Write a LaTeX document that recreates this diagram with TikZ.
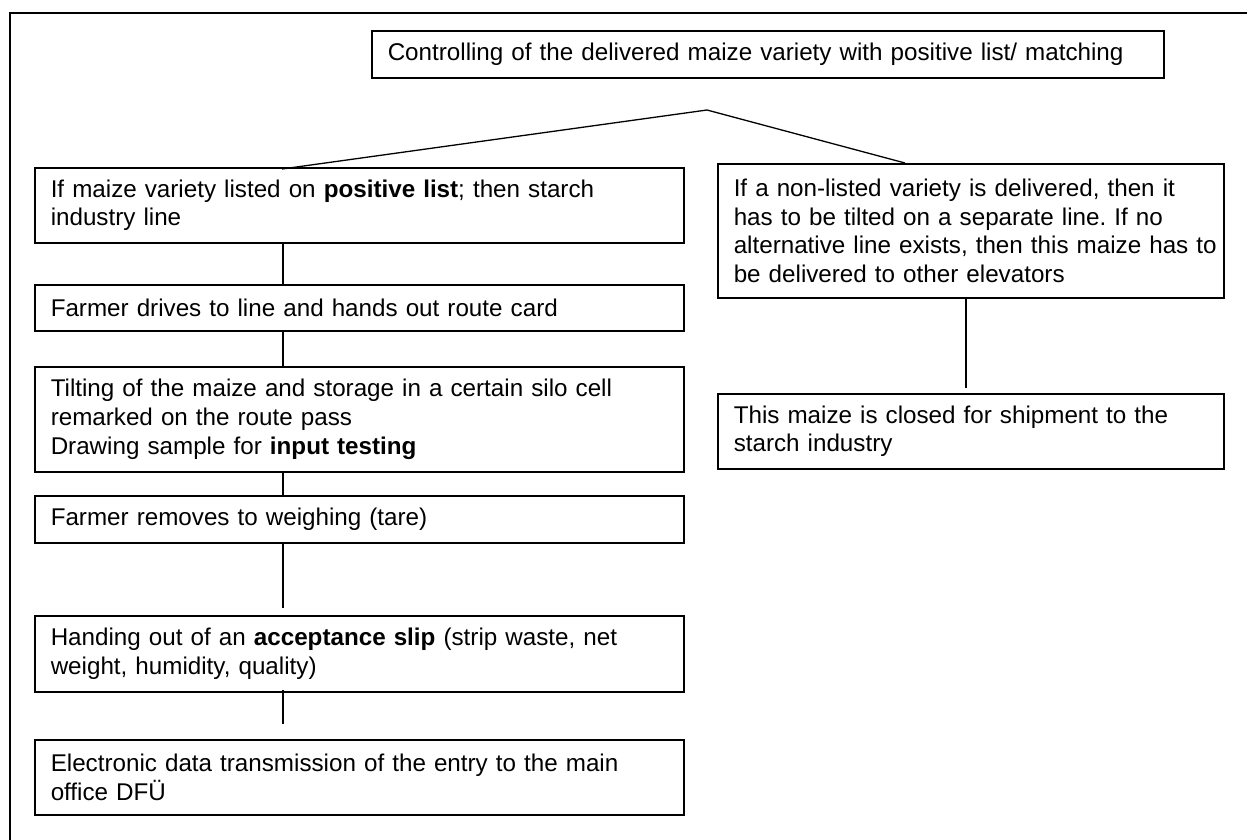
\documentclass[tikz,border=0pt]{standalone}
\usepackage{fontspec}
\setmainfont{Liberation Sans}
\frenchspacing
\begin{document}
\begin{tikzpicture}[x=1pt,y=-1pt,
  box/.style={draw, line width=1.5pt, anchor=north west, inner xsep=16pt, inner ysep=0pt,
    align=left, font=\fontsize{24.2}{28.8}\selectfont\frenchspacing},
  lbox/.style={box, minimum width=649pt, text width=617pt},
  rbox/.style={box, minimum width=506pt, text width=474pt},
  conn/.style={line width=1.3pt},
  frame/.style={line width=1.5pt}]
\useasboundingbox (0,0) rectangle (1247,839);
\draw[frame] (1250,13) -- (10,13) -- (10,842);

\node[box, minimum width=792pt, text width=760pt, minimum height=47pt] (top) at (371,30)
  {\mbox{Controlling of the delivered maize variety with positive list/ matching}};

\node[lbox, minimum height=75pt] (L1) at (34,167)
  {\mbox{If maize variety listed on \textbf{positive list}; then starch}\\\mbox{industry line}};
\node[lbox, minimum height=46pt] (L2) at (34,284)
  {\mbox{Farmer drives to line and hands out route card}};
\node[lbox, minimum height=105pt] (L3) at (34,366)
  {\mbox{Tilting of the maize and storage in a certain silo cell}\\\mbox{remarked on the route pass}\\\mbox{Drawing sample for \textbf{input testing}}};
\node[lbox, minimum height=47pt] (L4) at (34,495)
  {\mbox{Farmer removes to weighing (tare)}};
\node[lbox, minimum height=76pt] (L5) at (34,615)
  {\mbox{Handing out of an \textbf{acceptance slip} (strip waste, net}\\\mbox{weight, humidity, quality)}};
\node[lbox, minimum height=75pt] (L6) at (34,739)
  {\mbox{Electronic data transmission of the entry to the main}\\\mbox{office DFÜ}};

\node[rbox, minimum height=134pt] (R1) at (717,163)
  {\mbox{If a non-listed variety is delivered, then it}\\\mbox{has to be tilted on a separate line. If no}\\\mbox{alternative line exists, then this maize has to}\\\mbox{be delivered to other elevators}};
\node[rbox, minimum height=75pt] (R2) at (717,393)
  {\mbox{This maize is closed for shipment to the}\\\mbox{starch industry}};

\coordinate (apex) at (707,110);
\draw[conn] ([xshift=248pt,yshift=-2pt]L1.north west) -- (apex) -- ([xshift=188pt]R1.north west);

\draw[conn] ([xshift=249pt]L1.south west) -- ([xshift=249pt]L2.north west);
\draw[conn] ([xshift=249pt]L2.south west) -- ([xshift=249pt]L3.north west);
\draw[conn] ([xshift=249pt]L3.south west) -- ([xshift=249pt]L4.north west);
\draw[conn, shorten >=7pt] ([xshift=249pt]L4.south west) -- ([xshift=249pt]L5.north west);
\draw[conn, shorten >=15pt, shorten <=-3pt] ([xshift=249pt]L5.south west) -- ([xshift=249pt]L6.north west);
\draw[conn, shorten >=5pt] ([xshift=249pt]R1.south west) -- ([xshift=249pt]R2.north west);
\end{tikzpicture}
\end{document}
